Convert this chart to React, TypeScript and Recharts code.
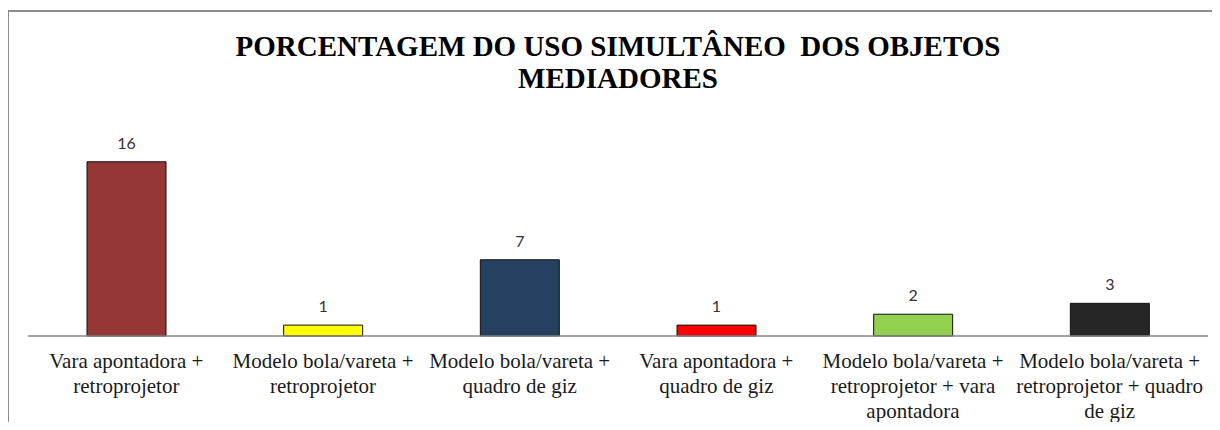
import React from "react";
import { BarChart, Bar, XAxis, YAxis, Cell, LabelList } from "recharts";

const TITLE_LINES = ["PORCENTAGEM DO USO SIMULTÂNEO  DOS OBJETOS", "MEDIADORES"];

const categories = [
  "Vara apontadora +\nretroprojetor",
  "Modelo bola/vareta +\nretroprojetor",
  "Modelo bola/vareta +\nquadro de giz",
  "Vara apontadora +\nquadro de giz",
  "Modelo bola/vareta +\nretroprojetor + vara\napontadora",
  "Modelo bola/vareta +\nretroprojetor + quadro\nde giz",
];

const values = [16, 1, 7, 1, 2, 3];

const colors = ["#953735", "#FFFF00", "#254061", "#FF0000", "#92D050", "#262626"];

const data = categories.map((name, i) => ({ name, value: values[i] }));

const CategoryTick = (props: any) => {
  const { x, y, payload } = props;
  const lines = String(payload.value).split("\n");
  return (
    <g transform={`translate(${x},${y})`}>
      {lines.map((line: string, i: number) => (
        <text
          key={i}
          x={0}
          y={24 + i * 25}
          textAnchor="middle"
          fill="#1a1a1a"
          style={{ fontFamily: '"Liberation Serif", "Times New Roman", serif', fontSize: 21 }}
        >
          {line}
        </text>
      ))}
    </g>
  );
};

export default function App() {
  return (
    <div style={{ position: "relative", margin: -8, width: 1220, height: 430, background: "#fff", overflow: "hidden" }}>
      <div
        style={{
          position: "absolute",
          left: 7,
          top: 10,
          width: 1230,
          height: 440,
          borderLeft: "2px solid #8c8c8c",
          borderTop: "2px solid #8c8c8c",
          boxSizing: "border-box",
        }}
      />
      <div
        style={{
          position: "absolute",
          left: 8,
          top: 30,
          width: 1220,
          textAlign: "center",
          fontFamily: '"Liberation Serif", "Times New Roman", serif',
          fontWeight: "bold",
          fontSize: 29,
          lineHeight: "32px",
          color: "#000",
          whiteSpace: "pre",
        }}
      >
        {TITLE_LINES.map((l, i) => (
          <div key={i}>{l}</div>
        ))}
      </div>
      <div style={{ position: "absolute", left: 0, top: 0 }}>
        <BarChart
          width={1220}
          height={430}
          data={data}
          margin={{ top: 140, right: 12, bottom: 0, left: 28 }}
          barCategoryGap="30%"
        >
          <XAxis
            dataKey="name"
            axisLine={{ stroke: "#868686", strokeWidth: 1.5 }}
            tickLine={false}
            interval={0}
            tick={<CategoryTick />}
            height={94}
          />
          <YAxis hide domain={[0, 18]} />
          <Bar dataKey="value" stroke="#111" strokeWidth={1} isAnimationActive={false}>
            {data.map((d, i) => (
              <Cell key={i} fill={colors[i]} />
            ))}
            <LabelList
              dataKey="value"
              position="top"
              offset={13}
              fill="#333"
              style={{ fontFamily: "Lato, 'Open Sans', sans-serif", fontSize: 16 }}
            />
          </Bar>
        </BarChart>
      </div>
    </div>
  );
}
